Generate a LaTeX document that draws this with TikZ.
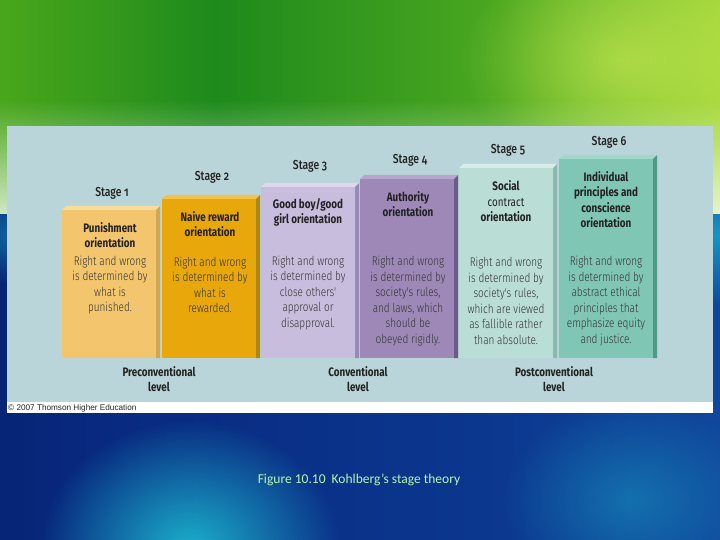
\documentclass[tikz,border=0pt]{standalone}
\usepackage{fontspec}
\setmainfont[FakeStretch=0.8,Numbers=OldStyle]{Fira Sans}
\IfFontExistsTF{Fira Sans Light}{\newfontfamily\descfont[FakeStretch=0.8,Numbers=OldStyle]{Fira Sans Light}}{\newcommand\descfont{\rmfamily}}
\IfFontExistsTF{Fira Sans Medium}{\newfontfamily\stgfont[FakeStretch=0.8,Numbers=OldStyle]{Fira Sans Medium}}{\newcommand\stgfont{\bfseries}}
\newfontfamily\capfont{Carlito}
\newfontfamily\cpfont{Liberation Sans}
\usetikzlibrary{fadings}
\tikzfading[name=myglow, inner color=transparent!0, outer color=transparent!100]
\definecolor{panel}{HTML}{BAD5D9}
\definecolor{txt}{HTML}{333333}
\definecolor{ttxt}{HTML}{222222}
\definecolor{s1f}{HTML}{F3C66E}\definecolor{s1t}{HTML}{F8DC9C}\definecolor{s1s}{HTML}{D3A650}
\definecolor{s2f}{HTML}{E8A70A}\definecolor{s2t}{HTML}{F2C24A}\definecolor{s2s}{HTML}{B08612}
\definecolor{s3f}{HTML}{C8BDDD}\definecolor{s3t}{HTML}{DED7EC}\definecolor{s3s}{HTML}{968AB6}
\definecolor{s4f}{HTML}{9E88B8}\definecolor{s4t}{HTML}{B6A5CC}\definecolor{s4s}{HTML}{6C5A8A}
\definecolor{s5f}{HTML}{BADDD5}\definecolor{s5t}{HTML}{D6EDE8}\definecolor{s5s}{HTML}{8ABAAE}
\definecolor{s6f}{HTML}{80C6B4}\definecolor{s6t}{HTML}{A0D8CA}\definecolor{s6s}{HTML}{4E9A86}
\definecolor{g1}{HTML}{7CC81C}\definecolor{g2}{HTML}{58B01C}\definecolor{g3}{HTML}{1E8A1C}
\definecolor{g4}{HTML}{4CA820}\definecolor{g5}{HTML}{B4E040}\definecolor{g6}{HTML}{DCF25E}
\definecolor{b1}{HTML}{021248}\definecolor{b2}{HTML}{08287E}\definecolor{b3}{HTML}{0C3890}\definecolor{b4}{HTML}{1660B0}
\definecolor{cy}{HTML}{1CB8D0}
\definecolor{capc}{HTML}{B8F5B0}
\pgfdeclarehorizontalshading{greenbg}{100bp}{color(0bp)=(g1); color(20bp)=(g2); color(40bp)=(g3); color(60bp)=(g4); color(78bp)=(g5); color(92bp)=(g6); color(100bp)=(g6)}
\pgfdeclarehorizontalshading{bluebg}{100bp}{color(0bp)=(b1); color(30bp)=(b2); color(60bp)=(b3); color(100bp)=(b4)}
\newcommand\stagebox[4]{%
  \fill[#2f] (#1,#3) rectangle (#1+94,358);
  \fill[#2t] (#1,#3) -- (#1+4,#3-4) -- (#1+98,#3-4) -- (#1+94,#3) -- cycle;
  \fill[#2s] (#1+94,#3) -- (#1+98,#3-4) -- (#1+98,358) -- (#1+94,358) -- cycle;
}
\begin{document}
\begin{tikzpicture}[x=1pt,y=-1pt,
  desc/.style={align=center, text=txt, font=\descfont\fontsize{12.5}{15.5}\selectfont, inner sep=0pt},
  ttl/.style={align=center, text=ttxt, font=\bfseries\fontsize{12.3}{15.5}\selectfont, inner sep=0pt},
  stg/.style={text=ttxt, font=\stgfont\fontsize{13}{15}\selectfont, inner sep=0pt},
  lvl/.style={align=center, text=ttxt, font=\bfseries\fontsize{12.3}{15.5}\selectfont, inner sep=0pt}]
\useasboundingbox (0,0) rectangle (720,540);
% backgrounds
\shade[shading=greenbg] (0,0) rectangle (720,215);
\fill[white, fill opacity=0.75, path fading=north] (0,100) rectangle (720,215);
\fill[g6, fill opacity=0.5, path fading=myglow] (620,60) ellipse (160 and 110);
\shade[shading=bluebg] (0,215) rectangle (720,540);
\begin{scope}
\clip (0,215) rectangle (720,540);
\fill[cy, fill opacity=0.95, path fading=myglow] (190,550) ellipse (150 and 130);
\fill[cy, fill opacity=0.7, path fading=myglow] (720,235) ellipse (90 and 70);
\fill[cy, fill opacity=0.45, path fading=myglow] (20,235) ellipse (90 and 50);
\fill[cy, fill opacity=0.4, path fading=myglow] (630,500) ellipse (130 and 100);
\end{scope}
% panel
\fill[panel] (7,126) rectangle (713,402);
\fill[white] (7,402) rectangle (713,413);
\node[anchor=west, inner sep=0pt, text=black!85, font=\cpfont\fontsize{8.2}{9}\selectfont] (copy) at (8,408) {© 2007 Thomson Higher Education};
% columns
\stagebox{62}{s1}{210}{}
\stagebox{162}{s2}{199}{}
\stagebox{261}{s3}{187}{}
\stagebox{360}{s4}{179}{}
\stagebox{459}{s5}{168}{}
\stagebox{559}{s6}{159}{}
% stage labels
\node[stg] (st1) at (112,193) {Stage 1};
\node[stg] (st2) at (212,177) {Stage 2};
\node[stg] (st3) at (310,166) {Stage 3};
\node[stg] (st4) at (410,160) {Stage 4};
\node[stg] (st5) at (508,150) {Stage 5};
\node[stg] (st6) at (609,142) {Stage 6};
% titles
\node[ttl] (t1) at (110,235) {Punishment\\orientation};
\node[ttl] (t2) at (210,224) {Naive reward\\orientation};
\node[ttl] (t3) at (308,212.5) {Good boy/good\\girl orientation};
\node[ttl] (t4) at (408,204) {Authority\\orientation};
\node[ttl] (t5) at (506,201.5) {Social\\{\mdseries contract}\\orientation};
\node[ttl] (t6) at (606,199.5) {Individual\\principles and\\conscience\\orientation};
% descriptions
\node[desc] (d1) at (110,285) {Right and wrong\\is determined by\\what is\\punished.};
\node[desc] (d2) at (210,285) {Right and wrong\\is determined by\\what is\\rewarded.};
\node[desc] (d3) at (308,293) {Right and wrong\\is determined by\\close others'\\approval or\\disapproval.};
\node[desc] (d4) at (408,301) {Right and wrong\\is determined by\\society's rules,\\and laws, which\\should be\\obeyed rigidly.};
\node[desc] (d5) at (506,301) {Right and wrong\\is determined by\\society's rules,\\which are viewed\\as fallible rather\\than absolute.};
\node[desc] (d6) at (606,301) {Right and wrong\\is determined by\\abstract ethical\\principles that\\emphasize equity\\and justice.};
% levels
\node[lvl] (l1) at (159,379) {Preconventional\\level};
\node[lvl] (l2) at (358,379) {Conventional\\level};
\node[lvl] (l3) at (554,379) {Postconventional\\level};
% caption
\node[text=capc, inner sep=0pt, font=\capfont\fontsize{13.5}{15}\selectfont] (cap) at (359,480) {Figure 10.10\ \ Kohlberg’s stage theory};
\end{tikzpicture}
\end{document}
